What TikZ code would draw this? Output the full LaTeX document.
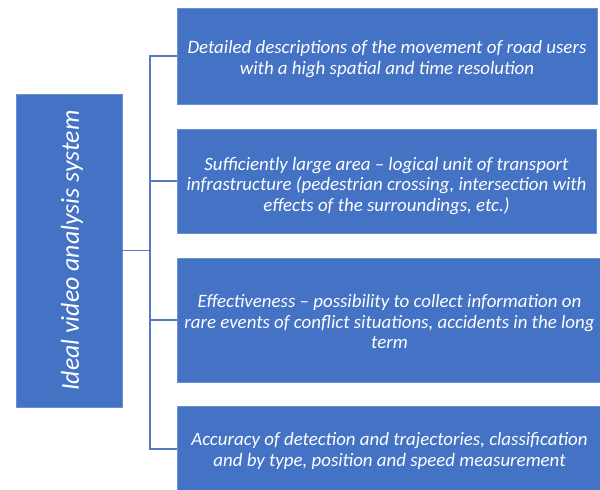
\documentclass[tikz,border=0pt]{standalone}
\usepackage{fontspec}
\setmainfont{Carlito}
\definecolor{boxblue}{HTML}{4472C4}
\definecolor{edgeblue}{HTML}{6A8FD2}
\definecolor{lineblue}{HTML}{5578BE}
\begin{document}
\begin{tikzpicture}[x=1pt,y=-1pt,
  bluebox/.style={rectangle, fill=boxblue, draw=edgeblue, line width=0.8pt, inner sep=0pt},
  boxtext/.style={text=white, align=center, inner sep=0pt, font=\fontsize{18.9}{20.5}\selectfont\itshape},
  conn/.style={draw=lineblue, line width=1.4pt}]
\useasboundingbox (0,0) rectangle (600,490);
\node[bluebox, minimum width=106pt, minimum height=313pt] (L) at (69,250.5) {};
\node[rotate=90, text=white, font=\fontsize{25.8}{30}\selectfont\itshape] (Lt) at (72,250.5) {Ideal video analysis system};
\node[bluebox, minimum width=420pt, minimum height=96pt] (B1) at (387,56) {};
\node[boxtext] (T1) at (387,59) {Detailed descriptions of the movement of road users\\with a high spatial and time resolution};
\node[bluebox, minimum width=419pt, minimum height=104pt] (B2) at (386.5,181) {};
\node[boxtext] (T2) at (386.5,186) {Sufficiently large area -- logical unit of transport\\infrastructure (pedestrian crossing, intersection with\\effects of the surroundings, etc.)};
\node[bluebox, minimum width=425pt, minimum height=124pt] (B3) at (389.5,320) {};
\node[boxtext] (T3) at (389.5,322) {Effectiveness -- possibility to collect information on\\rare events of conflict situations, accidents in the long\\term};
\node[bluebox, minimum width=425pt, minimum height=86pt] (B4) at (389.5,449) {};
\node[boxtext] (T4) at (389.5,451) {Accuracy of detection and trajectories, classification\\and by type, position and speed measurement};
\coordinate (sp) at (150,251);
\draw[conn] (L.east) -- (L.east -| sp);
\draw[conn] (B1.west) -- (B1.west -| sp) -- (B4.west -| sp) -- (B4.west);
\draw[conn] (B2.west) -- (B2.west -| sp);
\draw[conn] (B3.west) -- (B3.west -| sp);
\end{tikzpicture}
\end{document}
